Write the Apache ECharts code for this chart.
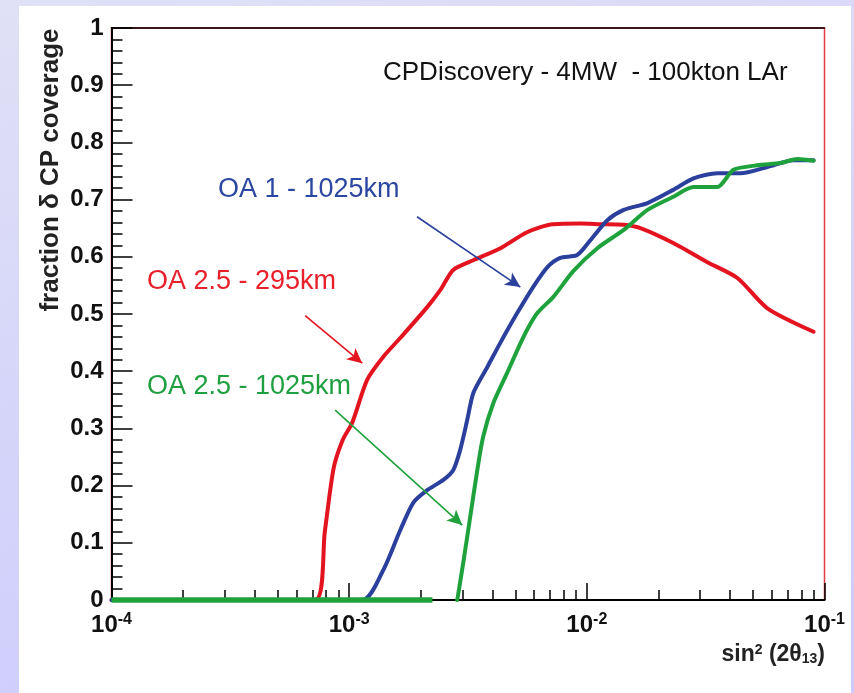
<!DOCTYPE html>
<html>
<head>
<meta charset="utf-8">
<script src="https://cdn.jsdelivr.net/npm/echarts@6/dist/echarts.min.js"></script>
<style>
  html, body { margin: 0; padding: 0; width: 854px; height: 693px; overflow: hidden;
    background: linear-gradient(165deg, #e0e0f6 0%, #d2d2fb 60%, #cccbfd 100%); }
  #panel { position: absolute; left: 19px; top: 6px; width: 832px; height: 687px; background: #fff; }
  #chart { position: absolute; left: 0; top: 0; width: 854px; height: 693px; }
</style>
</head>
<body>
<div id="panel"></div>
<div id="chart"></div>
<script>
// sin^2(2 theta13) sample points and the CP-coverage fraction for each configuration
const redX   = [1e-4, 7.2e-4, 7.9e-4, 8.6e-4, 9.4e-4, 1.03e-3, 1.19e-3, 1.39e-3, 1.64e-3, 2.13e-3, 2.42e-3,
                2.74e-3, 3.33e-3, 4.33e-3, 5.6e-3, 7.2e-3, 9.4e-3, 1.14e-2, 1.43e-2, 1.68e-2, 2.31e-2,
                3.2e-2, 4.3e-2, 5.75e-2, 9.0e-2];
const redY   = [0, 0, 0.12, 0.23, 0.28, 0.31, 0.385, 0.425, 0.458, 0.512, 0.542,
                0.577, 0.594, 0.615, 0.643, 0.657, 0.658, 0.657, 0.656, 0.65, 0.624,
                0.591, 0.563, 0.51, 0.469];

const blueX  = [1e-4, 1.135e-3, 1.39e-3, 1.64e-3, 1.86e-3, 2.13e-3, 2.49e-3, 2.74e-3, 2.93e-3, 3.14e-3,
                3.33e-3, 3.81e-3, 4.33e-3, 5.1e-3, 5.96e-3, 6.83e-3, 7.73e-3, 9.1e-3, 1.035e-2, 1.22e-2,
                1.43e-2, 1.8e-2, 2.31e-2, 2.81e-2, 3.54e-2, 4.43e-2, 5.75e-2, 7.4e-2, 9.0e-2];
const blueY  = [0, 0, 0.052, 0.122, 0.17, 0.192, 0.21, 0.227, 0.262, 0.315,
                0.362, 0.407, 0.45, 0.502, 0.548, 0.582, 0.598, 0.603, 0.629, 0.664,
                0.682, 0.694, 0.717, 0.737, 0.746, 0.746, 0.757, 0.769, 0.769];

const greenX = [2.85e-3, 3.02e-3, 3.23e-3, 3.46e-3, 3.66e-3, 4.04e-3, 4.62e-3, 5.1e-3, 5.6e-3, 6.2e-3,
                7.23e-3, 8.77e-3, 1.107e-2, 1.43e-2, 1.8e-2, 2.31e-2, 2.81e-2, 3.54e-2, 4.14e-2, 5.22e-2,
                6.53e-2, 7.7e-2, 9.0e-2];
const greenY = [0, 0.065, 0.145, 0.227, 0.285, 0.344, 0.397, 0.437, 0.472, 0.502,
                0.53, 0.575, 0.615, 0.647, 0.682, 0.705, 0.722, 0.722, 0.752, 0.76,
                0.764, 0.771, 0.768];

// flat zero stretch of the green configuration, drawn heavier along the axis
const greenZeroX = [1e-4, 2.24e-3];
const greenZeroY = [0, 0];

// annotation arrows: [fromX, fromY, toX, toY]
const blueArrow  = [1.93e-3, 0.67, 5.25e-3, 0.547];
const redArrow   = [6.53e-4, 0.497, 1.135e-3, 0.414];
const greenArrow = [8.73e-4, 0.332, 2.99e-3, 0.131];

// axis ticks
const xMinorTicks = [2e-4, 3e-4, 4e-4, 5e-4, 6e-4, 7e-4, 8e-4, 9e-4,
                     2e-3, 3e-3, 4e-3, 5e-3, 6e-3, 7e-3, 8e-3, 9e-3,
                     2e-2, 3e-2, 4e-2, 5e-2, 6e-2, 7e-2, 8e-2, 9e-2];
const yTickLabels = ['0', '0.1', '0.2', '0.3', '0.4', '0.5', '0.6', '0.7', '0.8', '0.9', '1'];

const labels = {
  title: 'CPDiscovery - 4MW  - 100kton LAr',
  blue: 'OA 1 - 1025km',
  red: 'OA 2.5 - 295km',
  green: 'OA 2.5 - 1025km',
  yName: 'fraction \u03b4 CP coverage'
};

const RED = '#e3141f', BLUE = '#2b3f9c', GREEN = '#1fa23c';
const FONT = '"Liberation Sans", Arial, Helvetica, sans-serif';

const pairs = (xs, ys) => xs.map((x, i) => [x, ys[i]]);
const arrowLine = (a, color) => ({
  silent: true,
  symbol: ['none', 'arrow'],
  symbolSize: [11, 15],
  label: { show: false },
  emphasis: { disabled: true },
  lineStyle: { color: color, width: 1.6, type: 'solid' },
  data: [[{ coord: [a[0], a[1]] }, { coord: [a[2], a[3]] }]]
});
const curve = (name, data, color, width, extra) => Object.assign({
  name: name, type: 'line', data: data, showSymbol: false, smooth: 0.25,
  lineStyle: { color: color, width: width, cap: 'round', join: 'round' },
  itemStyle: { color: color }, emphasis: { disabled: true }, z: 3
}, extra || {});

const chart = echarts.init(document.getElementById('chart'), null, { renderer: 'canvas' });

const logAxisBase = { type: 'log', logBase: 10, min: 1e-4, max: 1e-1, gridIndex: 0, splitLine: { show: false } };

chart.setOption({
  animation: false,
  backgroundColor: 'transparent',
  grid: { left: 111.5, right: 29.5, top: 28, bottom: 93, show: true,
          borderColor: '#e23a44', borderWidth: 1.5, backgroundColor: 'transparent' },
  xAxis: [
    Object.assign({}, logAxisBase, {
      position: 'bottom',
      axisLine: { show: true, lineStyle: { color: '#000', width: 2 } },
      axisTick: { show: true, inside: true, length: 17, lineStyle: { color: '#000', width: 1.5 } },
      axisLabel: {
        margin: 12,
        formatter: v => '{b|10}{s|' + Math.round(Math.log10(v)) + '}',
        rich: {
          b: { fontSize: 24, fontWeight: 'bold', fontFamily: FONT, color: '#111', lineHeight: 26 },
          s: { fontSize: 16, fontWeight: 'bold', fontFamily: FONT, color: '#111', verticalAlign: 'top', lineHeight: 14 }
        }
      }
    }),
    Object.assign({}, logAxisBase, {
      position: 'bottom',
      axisLine: { show: false },
      axisTick: { show: true, inside: true, length: 10, customValues: xMinorTicks,
                  lineStyle: { color: '#000', width: 1.5 } },
      axisLabel: { show: false }
    }),
    Object.assign({}, logAxisBase, {
      position: 'top',
      axisLine: { show: true, lineStyle: { color: '#000', width: 1.5 } },
      axisTick: { show: false },
      axisLabel: { show: false }
    })
  ],
  yAxis: [{
    type: 'value', min: 0, max: 1, interval: 0.1, position: 'left',
    axisLine: { show: true, lineStyle: { color: '#000', width: 2 } },
    axisTick: { show: true, inside: true, length: 21, lineStyle: { color: '#000', width: 1.5 } },
    minorTick: { show: true, splitNumber: 5, length: 11, lineStyle: { color: '#000', width: 1.5 } },
    splitLine: { show: false },
    axisLabel: {
      margin: 8, fontSize: 24, fontWeight: 'bold', fontFamily: FONT, color: '#111',
      formatter: v => yTickLabels[Math.round(v * 10)]
    }
  }],
  series: [
    curve('OA 2.5 - 295km', pairs(redX, redY), RED, 4, { markLine: arrowLine(redArrow, RED) }),
    curve('OA 1 - 1025km', pairs(blueX, blueY), BLUE, 4, { markLine: arrowLine(blueArrow, BLUE) }),
    curve('OA 2.5 - 1025km', pairs(greenX, greenY), GREEN, 4, { markLine: arrowLine(greenArrow, GREEN) }),
    curve('zero', pairs(greenZeroX, greenZeroY), GREEN, 5.5, { smooth: false, z: 4, clip: false,
      lineStyle: { color: GREEN, width: 5.5, cap: 'butt' } })
  ],
  graphic: [
    { type: 'text', x: 383, y: 73, silent: true,
      style: { text: labels.title, fontSize: 26, fontFamily: FONT, fill: '#111', align: 'left', verticalAlign: 'middle' } },
    { type: 'text', x: 218, y: 190, silent: true,
      style: { text: labels.blue, fontSize: 27, fontFamily: FONT, fill: '#2c47a2', align: 'left', verticalAlign: 'middle' } },
    { type: 'text', x: 147, y: 282, silent: true,
      style: { text: labels.red, fontSize: 27, fontFamily: FONT, fill: '#e8202a', align: 'left', verticalAlign: 'middle' } },
    { type: 'text', x: 147, y: 387, silent: true,
      style: { text: labels.green, fontSize: 27, fontFamily: FONT, fill: '#1e9f40', align: 'left', verticalAlign: 'middle' } },
    { type: 'text', x: 51, y: 170, rotation: Math.PI / 2, silent: true,
      style: { text: labels.yName, fontSize: 26, fontWeight: 'bold', fontFamily: FONT, fill: '#222',
               align: 'center', verticalAlign: 'middle' } },
    { type: 'text', x: 825, y: 655, silent: true,
      style: {
        text: 'sin{s|2} (2\u03b8{d|13})', align: 'right', verticalAlign: 'middle',
        fontSize: 23, fontWeight: 'bold', fontFamily: FONT, fill: '#222',
        rich: {
          s: { fontSize: 14, fontWeight: 'bold', fontFamily: FONT, fill: '#222', verticalAlign: 'top', padding: [0, 0, 8, 0] },
          d: { fontSize: 14, fontWeight: 'bold', fontFamily: FONT, fill: '#222', verticalAlign: 'bottom', padding: [8, 0, 0, 0] }
        }
      } }
  ]
});
</script>
</body>
</html>
